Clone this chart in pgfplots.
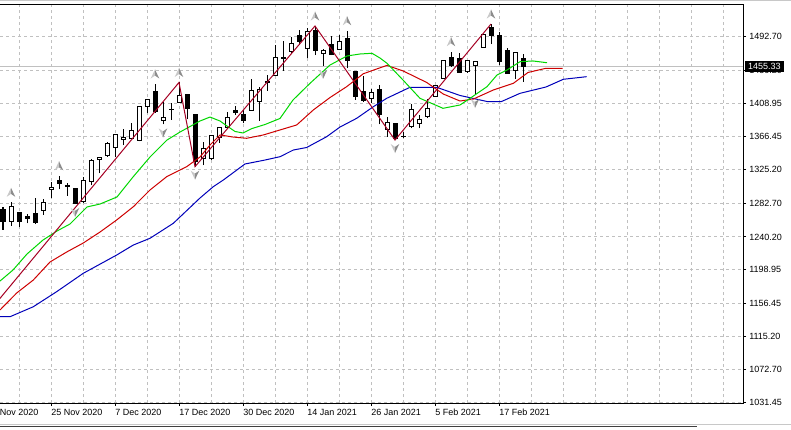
\documentclass[border=0pt]{standalone}
\usepackage{fontspec}
\setmainfont{Liberation Sans}
\usepackage{pgfplots}
\usepackage{pgfplotstable}
\pgfplotsset{compat=1.18}

\definecolor{gridc}{RGB}{192,192,192}
\definecolor{lips}{RGB}{0,215,0}
\definecolor{teeth}{RGB}{205,0,0}
\definecolor{jaw}{RGB}{0,0,185}
\definecolor{zz}{RGB}{165,0,35}
\definecolor{fracL}{RGB}{200,200,200}
\definecolor{fracD}{RGB}{140,140,140}
\definecolor{winL}{RGB}{200,200,200}

\pgfplotstableread{
i O H L C
0 1275.1 1278.3 1249.0 1259.4
1 1259.4 1283.9 1254.4 1278.3
2 1270.8 1272.0 1253.1 1259.4
3 1265.7 1269.1 1257.4 1263.7
4 1270.0 1288.9 1256.5 1258.2
5 1273.3 1287.7 1267.9 1283.9
6 1300.3 1309.9 1288.9 1302.8
7 1312.0 1317.4 1300.3 1307.8
8 1304.8 1307.8 1292.2 1304.1
9 1301.9 1302.5 1281.7 1282.6
10 1284.6 1315.4 1283.4 1312.0
11 1309.9 1338.1 1305.7 1337.2
12 1338.1 1340.6 1320.5 1340.6
13 1342.6 1360.3 1341.4 1358.3
14 1352.7 1369.6 1341.4 1369.6
15 1363.3 1375.9 1356.1 1365.8
16 1364.6 1383.5 1363.7 1373.8
17 1361.6 1405.3 1360.8 1405.3
18 1405.3 1413.8 1396.1 1413.8
19 1423.0 1433.1 1397.1 1398.1
20 1387.3 1410.7 1382.0 1391.1
21 1401.2 1408.7 1387.7 1400.3
22 1409.5 1435.0 1409.5 1418.6
23 1419.2 1420.4 1388.9 1402.4
24 1394.9 1394.9 1328.8 1335.1
25 1339.4 1360.3 1330.9 1352.0
26 1339.4 1368.8 1337.2 1367.5
27 1365.8 1378.5 1359.0 1378.5
28 1378.5 1398.1 1377.2 1391.1
29 1399.4 1405.3 1394.0 1396.9
30 1394.9 1400.3 1383.5 1386.8
31 1399.6 1439.0 1399.4 1424.9
32 1411.2 1429.3 1386.9 1426.4
33 1436.8 1444.4 1424.6 1435.0
34 1444.4 1482.2 1443.1 1466.7
35 1466.7 1487.7 1449.8 1465.0
36 1473.8 1491.9 1471.8 1484.4
37 1493.6 1501.2 1482.2 1486.4
38 1478.1 1503.3 1465.5 1499.0
39 1500.3 1506.2 1469.6 1475.0
40 1471.8 1477.2 1455.8 1475.0
41 1483.5 1493.6 1469.6 1470.5
42 1476.8 1494.8 1475.9 1486.4
43 1490.7 1500.3 1452.9 1463.3
44 1448.6 1448.6 1412.9 1417.9
45 1423.3 1443.1 1410.7 1412.0
46 1415.0 1426.4 1408.7 1422.1
47 1425.5 1431.8 1382.0 1394.0
48 1375.9 1391.4 1366.6 1384.3
49 1383.5 1383.5 1362.4 1364.6
50 1367.1 1372.9 1364.6 1366.4
51 1379.2 1407.8 1377.2 1400.3
52 1383.5 1394.0 1377.2 1387.7
53 1392.7 1413.8 1389.8 1402.4
54 1417.0 1431.8 1417.0 1430.9
55 1440.2 1462.1 1440.2 1462.1
56 1466.7 1473.8 1454.9 1457.0
57 1465.5 1471.8 1447.3 1447.3
58 1449.4 1462.1 1447.3 1462.1
59 1457.0 1461.2 1419.2 1461.2
60 1479.3 1496.7 1479.3 1496.1
61 1504.6 1508.7 1483.5 1494.0
62 1493.6 1499.0 1457.0 1461.2
63 1475.0 1478.1 1445.7 1446.6
64 1449.8 1472.5 1439.4 1472.5
65 1465.5 1470.9 1436.0 1455.33
}\ohlc

\pgfdeclareplotmark{fup}{%
  \pgfsetfillcolor{fracL}%
  \pgfpathmoveto{\pgfqpoint{0pt}{3.4pt}}\pgfpathlineto{\pgfqpoint{-3.2pt}{-3.4pt}}\pgfpathlineto{\pgfqpoint{0pt}{-1.2pt}}\pgfpathclose\pgfusepathqfill
  \pgfsetfillcolor{fracD}%
  \pgfpathmoveto{\pgfqpoint{0pt}{3.4pt}}\pgfpathlineto{\pgfqpoint{3.2pt}{-3.4pt}}\pgfpathlineto{\pgfqpoint{0pt}{-1.2pt}}\pgfpathclose\pgfusepathqfill
}
\pgfdeclareplotmark{fdown}{%
  \pgfsetfillcolor{fracL}%
  \pgfpathmoveto{\pgfqpoint{0pt}{-3.4pt}}\pgfpathlineto{\pgfqpoint{-3.2pt}{3.4pt}}\pgfpathlineto{\pgfqpoint{0pt}{1.2pt}}\pgfpathclose\pgfusepathqfill
  \pgfsetfillcolor{fracD}%
  \pgfpathmoveto{\pgfqpoint{0pt}{-3.4pt}}\pgfpathlineto{\pgfqpoint{3.2pt}{3.4pt}}\pgfpathlineto{\pgfqpoint{0pt}{1.2pt}}\pgfpathclose\pgfusepathqfill
}

\newcommand\lblfont{\fontsize{6.75pt}{8pt}\selectfont}

\pgfplotsset{base/.style={at={(0pt,0pt)}, anchor=south west, scale only axis,
  width=557.25pt, height=299.25pt,
  xmin=-0.375, xmax=92.5, ymin=1030.8, ymax=1533.94, enlargelimits=false}}

\begin{document}
\begin{tikzpicture}
\path[use as bounding box, clip] (0pt,-19.5pt) rectangle (593.25pt,302.25pt);

% window borders
\draw[winL, line width=0.75pt] (0pt,301.9pt) -- (593.25pt,301.9pt);
\draw[winL, line width=0.75pt] (0pt,-15.75pt) -- (593.25pt,-15.75pt);
\draw[black!75, line width=0.75pt] (0pt,-17.4pt) -- (522.75pt,-17.4pt);

\begin{axis}[base, name=main,
  axis line style={draw=none},
  scaled y ticks=false,
  xtick={6,14,...,62},
  xticklabels={25 Nov 2020,7 Dec 2020,17 Dec 2020,30 Dec 2020,14 Jan 2021,26 Jan 2021,5 Feb 2021,17 Feb 2021},
  minor xtick={2,6,...,90},
  ytick={1031.45,1072.70,1115.20,1156.45,1198.95,1240.20,1282.70,1325.20,1366.45,1408.95,1450.20,1492.70},
  yticklabels={1031.45,1072.70,1115.20,1156.45,1198.95,1240.20,1282.70,1325.20,1366.45,1408.95,1450.20,1492.70},
  xtick pos=left, ytick pos=right,
  xticklabel pos=left, yticklabel pos=right,
  tick align=outside, major tick length=2.25pt, minor tick length=0pt,
  tick style={black, line width=0.75pt},
  xminorgrids, ymajorgrids,
  minor grid style={gridc, line width=0.75pt, dash pattern=on 2.25pt off 2.25pt},
  major grid style={gridc, line width=0.75pt, dash pattern=on 2.25pt off 2.25pt},
  ticklabel style={font=\lblfont, text=black},
  xticklabel style={anchor=north west, inner sep=0pt, yshift=-2.25pt},
  yticklabel style={anchor=west, inner sep=0pt, xshift=2.25pt},
]
\addplot[gridc, line width=0.75pt, forget plot] coordinates {(-0.375,1455.33) (92.5,1455.33)};
\addplot[draw=none, forget plot,
  error bars/.cd, y dir=plus, y explicit, error mark=none,
  error bar style={draw=black, line width=0.75pt}]
  table[x=i, y=L, y error expr={\thisrow{H}-\thisrow{L}}] {\ohlc};
\coordinate (nov) at (axis cs:-2,1030.8);
\end{axis}

\begin{axis}[base, hide axis, ybar stacked, bar width=0.5]
\addplot[draw=none, fill=none] table[x=i, y expr={min(\thisrow{O},\thisrow{C})}] {\ohlc};
\addplot[fill=white, draw=black, line width=0.75pt] table[x=i, y expr={max(\thisrow{C}-\thisrow{O},0)}] {\ohlc};
\addplot[fill=black, draw=black, line width=0.75pt] table[x=i, y expr={max(\thisrow{O}-\thisrow{C},0)}] {\ohlc};
\end{axis}

\begin{axis}[base, hide axis]
% Alligator jaw (blue)
\addplot[jaw, line width=0.75pt, mark=none] coordinates {
(-0.375,1139.6) (0.875,1139.6) (3.79,1152.2) (6.71,1171.2) (10.04,1194.4) (14.21,1217.4)
(16.29,1230.0) (18.375,1238.5) (21.29,1257.4) (24.625,1289.3) (26.29,1303.6) (27.54,1312.0)
(30.25,1332.2) (32.75,1337.2) (34.625,1341.4) (36.29,1349.8) (37.96,1353.0) (40.46,1366.6)
(42.125,1378.8) (44.21,1389.8) (46.29,1404.4) (47.96,1415.0) (50.875,1428.9) (54.21,1428.9)
(57.125,1418.6) (60.625,1410.7) (62.25,1410.7) (64.625,1421.3) (67.875,1429.3) (70.04,1439.0)
(72.96,1442.3)};
% Alligator teeth (red)
\addplot[teeth, line width=0.75pt, mark=none] coordinates {
(-0.375,1148.1) (1.71,1169.5) (3.79,1185.9) (5.875,1208.6) (7.96,1221.2) (10.04,1232.6)
(12.125,1246.4) (14.21,1261.6) (16.29,1278.3) (18.375,1299.4) (20.46,1316.2) (22.96,1328.8)
(24.625,1341.0) (25.875,1356.1) (27.125,1368.8) (28.75,1366.2) (30.46,1364.6) (32.54,1368.8)
(34.625,1375.1) (36.71,1381.4) (38.79,1400.3) (40.875,1416.0) (42.96,1429.7) (45.04,1446.0)
(47.125,1453.5) (48,1456.5) (50.04,1449.4) (52.96,1435.0) (55.04,1420.4) (57.125,1411.6)
(58.79,1414.1) (61.29,1425.5) (63.79,1433.9) (65.625,1447.6) (67.875,1452.9) (69.96,1452.9)};
% Alligator lips (green)
\addplot[lips, line width=0.75pt, mark=none] coordinates {
(-0.375,1184.6) (1.25,1198.5) (3,1218.7) (5,1236.3) (6.75,1247.7) (8.375,1256.5)
(9.625,1269.1) (10.5,1278.0) (12.125,1281.7) (14.25,1290.6) (16.25,1315.8) (18.375,1341.0)
(20.5,1362.4) (22.125,1372.5) (24.625,1386.4) (25.875,1391.4) (27.125,1386.4) (28,1380.1)
(29,1373.2) (30,1371.3) (31.125,1376.9) (32.75,1382.0) (34.625,1389.6) (36.25,1412.9)
(38.375,1433.9) (40.875,1457.0) (43,1468.4) (44.625,1470.9) (46.125,1471.8) (47.125,1465.8)
(48,1459.2) (50,1438.1) (52.125,1415.0) (55,1402.4) (57.125,1406.6) (58.375,1415.0)
(60.5,1429.7) (61.75,1444.4) (63,1450.7) (64.625,1461.2) (66.25,1462.1) (68,1459.9)};
% ZigZag
\addplot[zz, line width=0.75pt, mark=none] coordinates {
(-2,1143.0) (22,1435.0) (24,1328.8) (39,1506.2) (49,1362.4) (61,1508.7)};
% Fractals
\addplot[only marks, mark=fup] coordinates {
(1,1296.5) (7,1330.0) (19,1445.7) (22,1447.6) (39,1518.8) (43,1512.9) (56,1486.4) (61,1521.3)};
\addplot[only marks, mark=fdown] coordinates {
(9,1271.0) (20,1371.3) (24,1318.1) (40,1445.1) (49,1351.7) (59,1408.5)};
\coordinate (pl) at (axis cs:92.5,1455.33);
\end{axis}

% frame
\draw[black, line width=0.75pt] (main.north west) -- (main.north east) -- (main.south east) -- (main.south west);
% first (cut) date label
\node[anchor=north west, inner sep=0pt, font=\lblfont, yshift=-4.5pt] at (nov) {13 Nov 2020};
% current price label
\node[fill=black, text=white, anchor=west, inner xsep=2.6pt, inner ysep=1.7pt, font=\lblfont] at ([xshift=1.1pt]pl) {1455.33};
\end{tikzpicture}
\end{document}
